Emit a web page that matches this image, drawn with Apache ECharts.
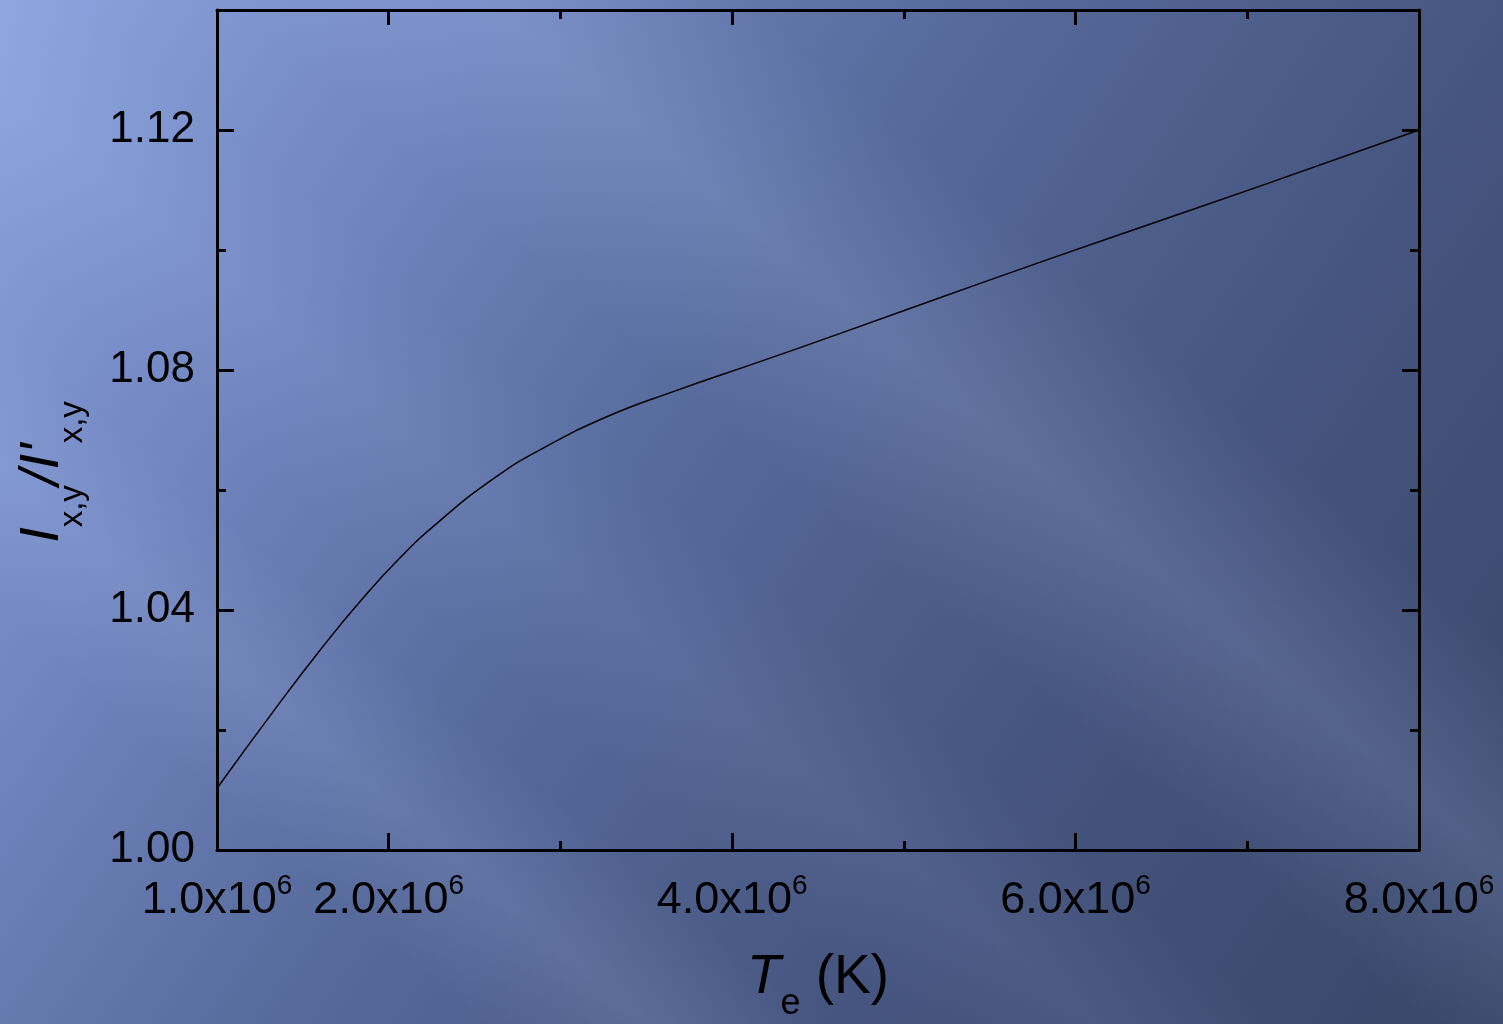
<!DOCTYPE html>
<html>
<head>
<meta charset="utf-8">
<script src="https://cdn.jsdelivr.net/npm/echarts@6/dist/echarts.min.js"></script>
<style>html,body{margin:0;padding:0;}#c{width:1503px;height:1024px;}</style>
</head>
<body>
<div id="c"></div>
<script>
// ---- data ----
const temperatures = [1.000e6, 1.367e6, 1.600e6, 1.833e6, 2.066e6, 2.299e6, 2.610e6, 2.881e6, 3.270e6, 3.657e6, 4.162e6, 4.630e6, 5.440e6, 6.250e6, 7.070e6, 8.000e6];
const ratios       = [1.0103, 1.0246, 1.0333, 1.0414, 1.0487, 1.0549, 1.0619, 1.0667, 1.0722, 1.0764, 1.0814, 1.0861, 1.0944, 1.1025, 1.1106, 1.1200];
const xLabelValues = [1e6, 2e6, 4e6, 6e6, 8e6];
const xMajorTicks  = [2e6, 4e6, 6e6, 8e6];
const xMinorTicks  = [3e6, 5e6, 7e6];
const yLabelValues = [1.00, 1.04, 1.08, 1.12];
const yMinorTicks  = [1.02, 1.06, 1.10];
const xRange = [1e6, 8e6];
const yRange = [1.00, 1.14];

const FONT = 'Liberation Sans, Arial, sans-serif';
const chart = echarts.init(document.getElementById('c'));

function xAxisDef(pos, ticks, len, showLine) {
  return {
    type: 'value', position: pos, min: xRange[0], max: xRange[1],
    axisLine: { show: showLine, onZero: false, lineStyle: { color: '#000', width: 3 } },
    axisTick: { show: true, inside: true, length: len, customValues: ticks, lineStyle: { color: '#000', width: 3 } },
    axisLabel: { show: false },
    splitLine: { show: false }
  };
}
function yAxisDef(pos, ticks, len, showLine) {
  return {
    type: 'value', position: pos, min: yRange[0], max: yRange[1],
    axisLine: { show: showLine, onZero: false, lineStyle: { color: '#000', width: 3 } },
    axisTick: { show: true, inside: true, length: len, customValues: ticks, lineStyle: { color: '#000', width: 3 } },
    axisLabel: { show: false },
    splitLine: { show: false }
  };
}

const xMain = xAxisDef('bottom', xMajorTicks, 17, true);
xMain.axisLabel = {
  show: true, customValues: xLabelValues, margin: 22,
  formatter: v => '{b|' + (v / 1e6).toFixed(1) + 'x10}{s|6}',
  rich: {
    b: { fontFamily: FONT, fontSize: 45, color: '#000' },
    s: { fontFamily: FONT, fontSize: 28, color: '#000', padding: [0, 0, 30, 0] }
  }
};
xMain.name = '{i|T}{sub|e}{n| (K)}';
xMain.nameLocation = 'middle';
xMain.nameGap = 84;
xMain.nameTextStyle = {
  rich: {
    i: { fontFamily: FONT, fontSize: 55, fontStyle: 'italic', color: '#000' },
    sub: { fontFamily: FONT, fontSize: 36, color: '#000', padding: [52, 0, 0, 0] },
    n: { fontFamily: FONT, fontSize: 55, color: '#000' }
  }
};

const yMain = yAxisDef('left', yLabelValues, 17, true);
yMain.axisLabel = {
  show: true, customValues: yLabelValues, margin: 22,
  formatter: v => v.toFixed(2),
  fontFamily: FONT, fontSize: 44, color: '#000'
};
yMain.name = '{i|I}{sub|x,y}{n|/}{i|I\'}{sub|x,y}{sp|}';
yMain.nameLocation = 'middle';
yMain.nameGap = 128;
yMain.nameRotate = 90;
yMain.nameTextStyle = {
  rich: {
    i: { fontFamily: FONT, fontSize: 56, fontStyle: 'italic', color: '#000' },
    sub: { fontFamily: FONT, fontSize: 33, color: '#000', padding: [60, 0, 0, 0] },
    n: { fontFamily: FONT, fontSize: 56, fontStyle: 'italic', color: '#000' },
    sp: { width: 84 }
  }
};

// soft diagonal light streaks of the slide background (decoration only)
function band(px, py, halfW, alpha) {
  const dx = 0.76, dy = 0.65;       // band direction (down-right)
  const nx = 0.65, ny = -0.76;      // normal
  const L = 2200;
  const p = (s, t) => [px + dx * s + nx * t, py + dy * s + ny * t];
  const pts = [p(-L, -halfW), p(L, -halfW), p(L, halfW), p(-L, halfW)];
  const a = p(0, -halfW), b = p(0, halfW);
  return {
    type: 'polygon', z: -10, silent: true,
    shape: { points: pts },
    style: {
      fill: {
        type: 'linear', global: true, x: a[0], y: a[1], x2: b[0], y2: b[1],
        colorStops: [
          { offset: 0, color: 'rgba(190,210,255,0)' },
          { offset: 0.5, color: 'rgba(190,210,255,' + alpha + ')' },
          { offset: 1, color: 'rgba(190,210,255,0)' }
        ]
      }
    }
  };
}

chart.setOption({
  animation: false,
  backgroundColor: {
    type: 'linear', x: 0, y: 0, x2: 1, y2: 1,
    colorStops: [
      { offset: 0, color: '#8ca5e0' },
      { offset: 0.22, color: '#7286c0' },
      { offset: 0.45, color: '#56699a' },
      { offset: 0.7, color: '#46557f' },
      { offset: 1, color: '#394669' }
    ]
  },
  graphic: [
    band(700, 180, 170, 0.16),
    band(260, 690, 110, 0.13),
    band(250, 300, 120, 0.08)
  ],
  grid: { left: 217, right: 84, top: 10, bottom: 174, containLabel: false, outerBoundsMode: 'none' },
  xAxis: [
    xMain,
    xAxisDef('bottom', xMinorTicks, 9, false),
    xAxisDef('top', xMajorTicks, 15, true),
    xAxisDef('top', xMinorTicks, 9, false)
  ],
  yAxis: [
    yMain,
    yAxisDef('left', yMinorTicks, 9, false),
    yAxisDef('right', yLabelValues, 17, true),
    yAxisDef('right', yMinorTicks, 9, false)
  ],
  series: [{
    type: 'line', xAxisIndex: 0, yAxisIndex: 0,
    data: temperatures.map((t, i) => [t, ratios[i]]),
    smooth: 0.5, showSymbol: false,
    lineStyle: { color: '#000', width: 1.5 }
  }]
});
</script>
</body>
</html>
